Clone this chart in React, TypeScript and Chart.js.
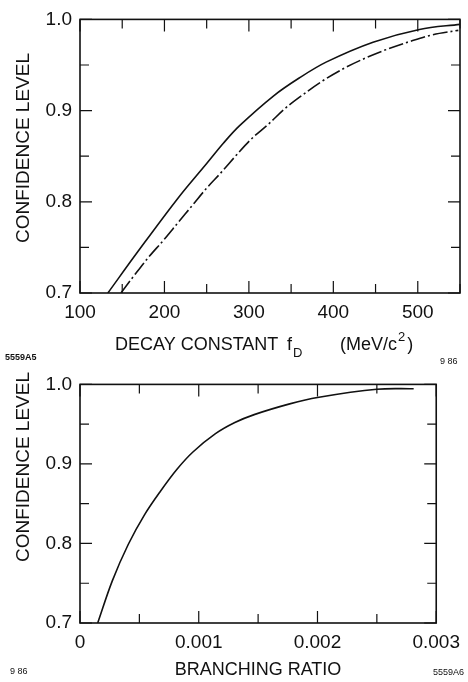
import React, { useEffect, useRef } from 'react';
import { Chart, registerables } from 'chart.js';

Chart.register(...registerables);

const FONT = "'Liberation Sans', Arial, sans-serif";
const INK = '#111';

// ---- Top chart: confidence level vs decay constant f_D (MeV/c^2)
const fdSolidX = [133, 169, 216, 250, 270, 289, 329, 360, 392, 447, 502, 550];
const fdSolidY = [0.70, 0.746, 0.804, 0.842, 0.8645, 0.8835, 0.916, 0.936, 0.9534, 0.975, 0.989, 0.9946];
const fdDashX = [148.5, 164, 181, 199, 216, 233, 250, 267, 285, 303, 323, 343, 364, 388, 414, 439, 463, 490, 516, 548];
const fdDashY = [0.70, 0.719, 0.739, 0.758, 0.777, 0.796, 0.815, 0.832, 0.851, 0.869, 0.885, 0.9025, 0.9175, 0.933, 0.947, 0.958, 0.967, 0.9756, 0.9828, 0.988];
const fdTickValues = [100, 150, 200, 250, 300, 350, 400, 450, 500, 550];
const fdTickLabels = ['100', '', '200', '', '300', '', '400', '', '500', ''];

// ---- Bottom chart: confidence level vs branching ratio
const brX = [0.000149, 0.000272, 0.000407, 0.000543, 0.000679, 0.000815, 0.000951, 0.001141, 0.001304, 0.001467, 0.001766, 0.002, 0.0025, 0.00281];
const brY = [0.70, 0.753, 0.799, 0.836, 0.866, 0.893, 0.915, 0.938, 0.952, 0.962, 0.9755, 0.9836, 0.9939, 0.9946];
const brTickValues = [0, 0.0005, 0.001, 0.0015, 0.002, 0.0025, 0.003];
const brTickLabels = ['0', '', '0.001', '', '0.002', '', '0.003'];

// ---- Shared y axis
const clTickValues = [0.7, 0.75, 0.8, 0.85, 0.9, 0.95, 1.0];
const clTickLabels = ['0.7', '', '0.8', '', '0.9', '', '1.0'];

const frameTicks = {
  id: 'frameTicks',
  afterDatasetsDraw(chart: any) {
    const { ctx, chartArea: a } = chart;
    const xs = chart.scales.x;
    const ys = chart.scales.y;
    ctx.save();
    ctx.strokeStyle = INK;
    ctx.lineWidth = 1.6;
    ctx.strokeRect(a.left, a.top, a.right - a.left, a.bottom - a.top);
    ctx.lineWidth = 1.2;
    ctx.beginPath();
    xs.ticks.forEach((t: any) => {
      const p = xs.getPixelForValue(t.value);
      const len = t.label ? 12 : 9;
      ctx.moveTo(p, a.bottom);
      ctx.lineTo(p, a.bottom - len);
      ctx.moveTo(p, a.top);
      ctx.lineTo(p, a.top + len);
    });
    ys.ticks.forEach((t: any) => {
      const p = ys.getPixelForValue(t.value);
      const len = t.label ? 12 : 9;
      ctx.moveTo(a.left, p);
      ctx.lineTo(a.left + len, p);
      ctx.moveTo(a.right, p);
      ctx.lineTo(a.right - len, p);
    });
    ctx.stroke();
    ctx.restore();
  },
};

type TextItem = {
  text: string;
  x: number;
  y: number;
  size: number;
  bold?: boolean;
  align?: CanvasTextAlign;
  rotate?: number;
  after?: boolean;
  gap?: number;
};

const textsPlugin = {
  id: 'texts',
  afterDraw(chart: any, _args: any, opts: any) {
    const items: TextItem[] = (opts && opts.items) || [];
    const ctx = chart.ctx;
    let cursor = 0;
    items.forEach((it) => {
      const font = `${it.bold ? 'bold ' : ''}${it.size}px ${FONT}`;
      const x = it.after ? cursor + (it.gap || 0) : it.x;
      ctx.save();
      ctx.fillStyle = INK;
      ctx.font = font;
      ctx.textBaseline = 'middle';
      ctx.textAlign = it.align || 'left';
      ctx.translate(x, it.y);
      if (it.rotate) ctx.rotate(it.rotate);
      ctx.fillText(it.text, 0, 0);
      ctx.restore();
      ctx.save();
      ctx.font = font;
      cursor = x + ctx.measureText(it.text).width;
      ctx.restore();
    });
  },
};

function yScale() {
  return {
    type: 'linear',
    min: 0.7,
    max: 1.0,
    afterBuildTicks: (s: any) => {
      s.ticks = clTickValues.map((v) => ({ value: v }));
    },
    afterFit: (s: any) => {
      s.width = 80;
    },
    ticks: {
      callback: (_v: any, i: number) => clTickLabels[i],
      font: { family: FONT, size: 19 },
      color: INK,
      padding: 8,
      autoSkip: false,
    },
    grid: { display: false, drawTicks: false },
    border: { display: false },
  };
}

function xScale(min: number, max: number, values: number[], labels: string[], height: number) {
  return {
    type: 'linear',
    min,
    max,
    afterBuildTicks: (s: any) => {
      s.ticks = values.map((v) => ({ value: v }));
    },
    afterFit: (s: any) => {
      s.height = height;
    },
    ticks: {
      callback: (_v: any, i: number) => labels[i],
      font: { family: FONT, size: 19 },
      color: INK,
      padding: 8,
      maxRotation: 0,
      autoSkip: false,
    },
    grid: { display: false, drawTicks: false },
    border: { display: false },
  };
}

const lineStyle = {
  showLine: true,
  borderColor: INK,
  borderWidth: 1.6,
  pointRadius: 0,
  tension: 0.35,
};

function topConfig(): any {
  return {
    type: 'scatter',
    data: {
      datasets: [
        { ...lineStyle, data: fdSolidX.map((x, i) => ({ x, y: fdSolidY[i] })) },
        { ...lineStyle, borderDash: [15, 3, 2, 3], data: fdDashX.map((x, i) => ({ x, y: fdDashY[i] })) },
      ],
    },
    options: {
      animation: false,
      responsive: false,
      events: [],
      layout: { padding: { left: 0, right: 6, top: 14, bottom: 0 } },
      plugins: {
        legend: { display: false },
        tooltip: { enabled: false },
        texts: {
          items: [
            { text: 'CONFIDENCE LEVEL', x: 24, y: 148, size: 19, align: 'center', rotate: -Math.PI / 2 },
            { text: 'DECAY CONSTANT', x: 115, y: 345, size: 18 },
            { text: 'f', x: 287, y: 345, size: 18 },
            { text: 'D', x: 293, y: 353, size: 13 },
            { text: '(MeV/c', x: 340, y: 345, size: 18 },
            { text: '2', x: 0, y: 337, size: 13, after: true, gap: 1 },
            { text: ')', x: 0, y: 345, size: 18, after: true, gap: 2 },
            { text: '5559A5', x: 5, y: 358, size: 9, bold: true },
            { text: '9 86', x: 440, y: 362, size: 9 },
          ],
        },
      },
      scales: {
        x: xScale(100, 550, fdTickValues, fdTickLabels, 72),
        y: yScale(),
      },
    },
    plugins: [frameTicks, textsPlugin],
  };
}

function bottomConfig(): any {
  return {
    type: 'scatter',
    data: {
      datasets: [{ ...lineStyle, data: brX.map((x, i) => ({ x, y: brY[i] })) }],
    },
    options: {
      animation: false,
      responsive: false,
      events: [],
      layout: { padding: { left: 0, right: 20, top: 13.5, bottom: 0 } },
      plugins: {
        legend: { display: false },
        tooltip: { enabled: false },
        texts: {
          items: [
            { text: 'CONFIDENCE LEVEL', x: 24, y: 102, size: 19, align: 'center', rotate: -Math.PI / 2 },
            { text: 'BRANCHING RATIO', x: 258, y: 305, size: 18, align: 'center' },
            { text: '9 86', x: 10, y: 307, size: 9 },
            { text: '5559A6', x: 433, y: 308, size: 9 },
          ],
        },
      },
      scales: {
        x: xScale(0, 0.003, brTickValues, brTickLabels, 59),
        y: yScale(),
      },
    },
    plugins: [frameTicks, textsPlugin],
  };
}

function ChartCanvas({ make, top, height }: { make: () => any; top: number; height: number }) {
  const ref = useRef<HTMLCanvasElement | null>(null);
  useEffect(() => {
    if (!ref.current) return;
    const chart = new Chart(ref.current, make());
    return () => chart.destroy();
  }, [make]);
  return (
    <canvas
      ref={ref}
      width={468}
      height={height}
      style={{ position: 'absolute', left: 0, top, width: 468, height, display: 'block' }}
    />
  );
}

export default function App() {
  return (
    <div
      style={{
        position: 'fixed',
        left: 0,
        top: 0,
        width: 468,
        height: 682,
        background: '#fff',
        overflow: 'hidden',
      }}
    >
      <ChartCanvas make={topConfig} top={0} height={365} />
      <ChartCanvas make={bottomConfig} top={365} height={317} />
    </div>
  );
}
